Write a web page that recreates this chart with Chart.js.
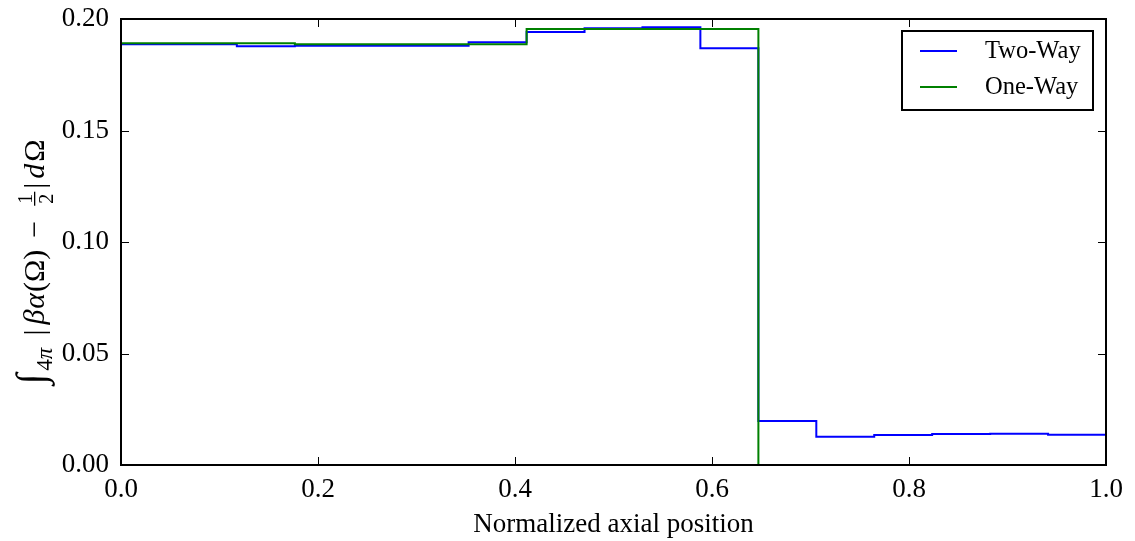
<!DOCTYPE html>
<html>
<head>
<meta charset="utf-8">
<script src="https://cdn.jsdelivr.net/npm/chart.js@4/dist/chart.umd.min.js"></script>
<style>
  html, body { margin: 0; padding: 0; background: #fff; }
  #wrap { width: 1135px; height: 541px; position: relative; }
  canvas { display: block; }
</style>
</head>
<body>
<div id="wrap"><canvas id="c" width="1135" height="541"></canvas></div>
<script>
// Left edges of the axial bins, plus the closing edge at 1.0
const binEdges = [0, 0.0588, 0.1176, 0.1765, 0.2353, 0.2941, 0.3529, 0.4118, 0.4706,
                  0.5294, 0.5882, 0.6471, 0.7059, 0.7647, 0.8235, 0.8824, 0.9412, 1.0];
// Bin values for each coupling mode
const twoWay = [0.1887, 0.1887, 0.1878, 0.1880, 0.1880, 0.1880, 0.1896, 0.1942, 0.1958,
                0.1963, 0.1869, 0.0197, 0.0127, 0.0135, 0.0139, 0.0140, 0.0136];
const oneWay = [0.1891, 0.1891, 0.1891, 0.1887, 0.1887, 0.1887, 0.1887, 0.1955, 0.1955,
                0.1955, 0.1955, 0, 0, 0, 0, 0, 0];
const seriesNames = ['Two-Way', 'One-Way'];
const xTicks = [0.0, 0.2, 0.4, 0.6, 0.8, 1.0];
const yTicks = [0.00, 0.05, 0.10, 0.15, 0.20];
const xTitle = 'Normalized axial position';

const SERIF = "'Liberation Serif', 'DejaVu Serif', serif";
const BLUE = '#0000ff';
const GREEN = '#008000';

// one point per left bin edge, plus the closing edge carrying the last value
function stepPoints(vals) {
  const pts = vals.map((v, i) => ({ x: binEdges[i], y: v }));
  pts.push({ x: binEdges[binEdges.length - 1], y: vals[vals.length - 1] });
  return pts;
}

// inward ticks on all four sides plus the black frame
const framePlugin = {
  id: 'frame',
  afterDatasetsDraw(chart) {
    const { ctx, chartArea: a, scales } = chart;
    ctx.save();
    ctx.strokeStyle = '#000';
    ctx.lineWidth = 1;
    const L = 8;
    ctx.beginPath();
    xTicks.forEach(v => {
      const x = Math.round(scales.x.getPixelForValue(v)) + 0.5;
      ctx.moveTo(x, a.bottom); ctx.lineTo(x, a.bottom - L);
      ctx.moveTo(x, a.top); ctx.lineTo(x, a.top + L);
    });
    yTicks.forEach(v => {
      const y = Math.round(scales.y.getPixelForValue(v)) + 0.5;
      ctx.moveTo(a.left, y); ctx.lineTo(a.left + L, y);
      ctx.moveTo(a.right, y); ctx.lineTo(a.right - L, y);
    });
    ctx.stroke();
    ctx.lineWidth = 2;
    ctx.strokeRect(a.left, a.top, a.right - a.left, a.bottom - a.top);
    ctx.restore();
  },
  afterDraw(chart) {
    const { ctx, chartArea: a } = chart;
    // legend box in the upper right corner
    const bw = 191, bh = 79;
    const bx = a.right - 13 - bw, by = a.top + 12;
    ctx.save();
    ctx.fillStyle = '#fff';
    ctx.fillRect(bx, by, bw, bh);
    ctx.strokeStyle = '#000';
    ctx.lineWidth = 2;
    ctx.strokeRect(bx, by, bw, bh);
    chart.data.datasets.forEach((ds, i) => {
      const y = by + 20 + i * 36;
      ctx.strokeStyle = ds.borderColor;
      ctx.lineWidth = 2;
      ctx.beginPath();
      ctx.moveTo(bx + 18, y); ctx.lineTo(bx + 55, y);
      ctx.stroke();
      ctx.fillStyle = '#000';
      ctx.font = '24.5px ' + SERIF;
      ctx.textBaseline = 'middle';
      ctx.textAlign = 'left';
      ctx.fillText(ds.label, bx + 83, y + 1);
    });
    ctx.restore();

    // rotated y-axis title: ∫_{4π} |βα(Ω) − ½| dΩ
    const pieces = [
      { t: '\u222B', size: 40, italic: true, dy: 0, gap: 3 },
      { t: '4', size: 23, dy: 8 },
      { t: '\u03C0', size: 23, italic: true, dy: 8, gap: 12 },
      { t: '|', size: 30, dy: 0, gap: 5 },
      { t: '\u03B2', size: 30, italic: true, dy: 0, gap: 1 },
      { t: '\u03B1', size: 30, italic: true, dy: 0, gap: 1 },
      { t: '(\u03A9)', size: 30, dy: 0, gap: 12 },
      { t: '\u2212', size: 30, dy: 0, gap: 12 },
      { frac: ['1', '2'], size: 20 },
      { t: '|', size: 30, dy: 0, gap: 4 },
      { t: 'd', size: 30, italic: true, dy: 0, gap: 2 },
      { t: '\u03A9', size: 30, dy: 0 }
    ];
    const fontOf = p => (p.italic ? 'italic ' : '') + p.size + 'px ' + SERIF;
    ctx.save();
    let total = 0;
    pieces.forEach(p => {
      ctx.font = fontOf(p);
      if (p.frac) {
        p.w = Math.max(ctx.measureText(p.frac[0]).width, ctx.measureText(p.frac[1]).width) + 10;
      } else {
        p.w = ctx.measureText(p.t).width + (p.gap || 0);
      }
      total += p.w;
    });
    const cx = 44, cy = 262;
    ctx.translate(cx, cy);
    ctx.rotate(-Math.PI / 2);
    ctx.fillStyle = '#000';
    ctx.textBaseline = 'alphabetic';
    let x = -total / 2;
    pieces.forEach(p => {
      ctx.font = fontOf(p);
      if (p.frac) {
        ctx.textAlign = 'center';
        const mx = x + p.w / 2;
        ctx.fillText(p.frac[0], mx, -12);
        ctx.fillText(p.frac[1], mx, 9);
        ctx.fillRect(x + 3, -10, p.w - 6, 1.3);
        ctx.textAlign = 'left';
      } else {
        ctx.textAlign = 'left';
        ctx.fillText(p.t, x, p.dy);
      }
      x += p.w;
    });
    ctx.restore();
  }
};

new Chart(document.getElementById('c'), {
  type: 'line',
  data: {
    datasets: [
      { label: seriesNames[0], data: stepPoints(twoWay), borderColor: BLUE, backgroundColor: BLUE,
        borderWidth: 2, stepped: 'before', pointRadius: 0, fill: false, order: 1 },
      { label: seriesNames[1], data: stepPoints(oneWay), borderColor: GREEN, backgroundColor: GREEN,
        borderWidth: 2, stepped: 'before', pointRadius: 0, fill: false, order: 0 }
    ]
  },
  options: {
    responsive: false,
    animation: false,
    devicePixelRatio: 1,
    layout: { padding: { left: 0, right: 29, top: 19, bottom: 0 } },
    plugins: { legend: { display: false }, tooltip: { enabled: false } },
    scales: {
      x: {
        type: 'linear', min: 0, max: 1,
        grid: { display: false, drawTicks: false },
        border: { display: false },
        afterBuildTicks: s => { s.ticks = xTicks.map(v => ({ value: v })); },
        afterFit: s => { s.height = 76; s.paddingLeft = 0; s.paddingRight = 0; },
        ticks: {
          padding: 9, color: '#000', maxRotation: 0,
          font: { family: SERIF, size: 27 },
          callback: v => Number(v).toFixed(1)
        },
        title: {
          display: true, text: xTitle, color: '#000',
          font: { family: SERIF, size: 27 }, padding: { top: 0, bottom: 0 }
        }
      },
      y: {
        type: 'linear', min: 0, max: 0.2,
        grid: { display: false, drawTicks: false },
        border: { display: false },
        afterBuildTicks: s => { s.ticks = yTicks.map(v => ({ value: v })); },
        afterFit: s => { s.width = 121; s.paddingTop = 0; s.paddingBottom = 0; },
        ticks: {
          padding: 12, color: '#000',
          font: { family: SERIF, size: 27 },
          callback: v => Number(v).toFixed(2)
        }
      }
    }
  },
  plugins: [framePlugin]
});
</script>
</body>
</html>
